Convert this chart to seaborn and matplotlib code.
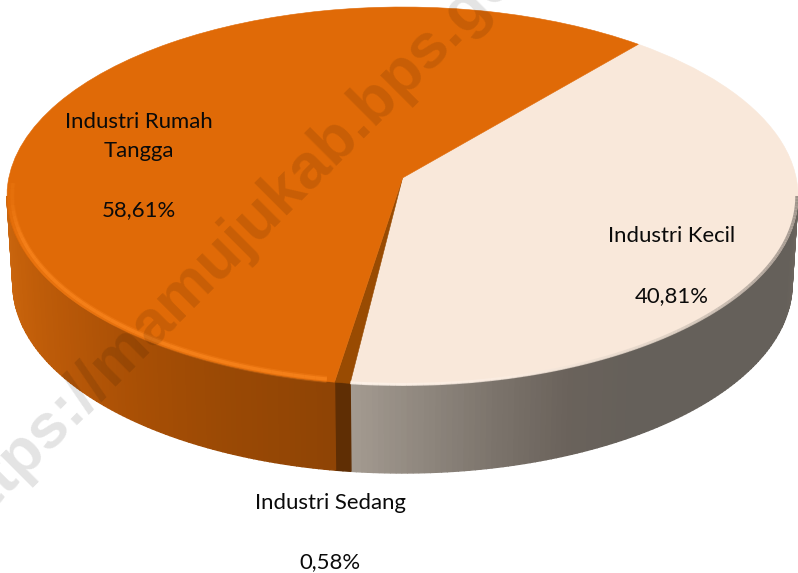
import numpy as np
import matplotlib
matplotlib.use("Agg")
import matplotlib.pyplot as plt
from matplotlib.transforms import Transform
import seaborn as sns

# data
categories = ["Industri Kecil", "Industri Sedang", "Industri Rumah\nTangga"]
shares = [40.81, 0.58, 58.61]
share_labels = ["40,81%", "0,58%", "58,61%"]
top_colors = ["#F9E8DA", "#994B02", "#E06A07"]
wall_ramps = [["#A39A90", "#8E867D", "#7A726A", "#6A625B", "#65605A", "#65605A", "#65605A", "#65605A", "#65605A", "#6B645D"],
              ["#5F2E04", "#5F2E04"],
              ["#CC6810", "#C4600A", "#B85808", "#A84F05", "#9A4905", "#8F4405"]]
rim_colors = ["#FFF4EA", "#994B02", "#FF8A22"]
watermark = "https://mamujukab.bps.go.id"

# layout (pixels)
W, H = 798, 573
CX, CY, RX, RY = 402.5, 196.0, 395.5, 189.0
APEX_Y = 178.0
DEPTH = 88.0
START = 50.0
A = (CY - APEX_Y) / RY
BOTTOM_SCALE = 0.985

sns.set_style("white")
plt.rcParams["font.family"] = ["Lato", "DejaVu Sans"]


def persp(x, y):
    d = 1 + A * y
    return x * np.sqrt(1 - A * A) / d, (y + A) / d


class Persp(Transform):
    input_dims = output_dims = 2
    is_separable = False

    def transform_non_affine(self, pts):
        pts = np.asarray(pts, float)
        u, v = persp(pts[:, 0], pts[:, 1])
        return np.column_stack([u, v])


fig = plt.figure(figsize=(W / 100, H / 100), dpi=100, facecolor="white")
ax = fig.add_axes([0, 0, 1, 1])
wedges, _ = ax.pie(shares, colors=top_colors, startangle=START, counterclock=False,
                   frame=True, wedgeprops=dict(linewidth=0.4, zorder=3))
ax.set_aspect("auto")
ax.set_xlim((0 - CX) / RX, (W - CX) / RX)
ax.set_ylim((CY - H) / RY, CY / RY)
ax.axis("off")
persp_tf = Persp() + ax.transData
for w, c in zip(wedges, top_colors):
    w.set_transform(persp_tf)
    w.set_edgecolor(c)

# slice boundaries converted to the visible ellipse angle
edges_src = START - np.cumsum([0] + shares) * 3.6
eu, ev = persp(np.cos(np.radians(edges_src)), np.sin(np.radians(edges_src)))
edges_phi = np.degrees(np.arctan2(ev, eu)) % 360
edges_phi[-1] = edges_phi[0]
d = DEPTH / RY

# walls, as vertical strips on the front half
ranges = [(edges_phi[1], 360.0, 0), (edges_phi[2], edges_phi[1], 1), (180.0, edges_phi[2], 2)]
for lo, hi, idx in ranges:
    n = max(2, int((hi - lo) * 1.2))
    steps = np.linspace(lo, hi, n + 1)
    ramp = sns.blend_palette(wall_ramps[idx], n)
    for i in range(n):
        ph = np.radians(np.linspace(steps[i], steps[i + 1], 4))
        u, v = np.cos(ph), np.sin(ph)
        xs = np.r_[u, (u * BOTTOM_SCALE)[::-1]]
        ys = np.r_[v, (v - d)[::-1]]
        ax.fill(xs, ys, color=ramp[i], lw=1.0, zorder=1)

# rim highlights
for scale, lw, al in [(0.989, 5.0, 0.28), (0.987, 2.4, 0.55)]:
    ph = np.radians(np.linspace(176, edges_phi[2], 200))
    # taper towards the far left
    for p0, p1 in zip(ph[:-1:4], ph[4::4]):
        seg = np.linspace(p0, p1, 4)
        fade = np.clip((p0 - np.radians(176)) / np.radians(18), 0.25, 1)
        ax.plot(np.cos(seg) * scale, np.sin(seg) * scale, color=rim_colors[2],
                lw=lw, alpha=al * fade, zorder=4, solid_capstyle="butt")

ph_all = np.linspace(edges_phi[1], 360, 120)
rim_ramp = sns.blend_palette(["#FFF6EE", "#FBEDE2", "#D8CCC0", "#9A9088", "#7A726B"], len(ph_all) - 1)
for i in range(len(ph_all) - 1):
    seg = np.radians(np.linspace(ph_all[i], ph_all[i + 1], 3))
    ax.plot(np.cos(seg) * 0.997, np.sin(seg) * 0.997, color=rim_ramp[i], lw=2.2, alpha=0.7,
            zorder=4, solid_capstyle="butt")


def px(x, y):
    return x / W, 1 - y / H


FS = 15.9
for label, pos in zip(categories + share_labels,
                      [(672, 236), (330, 503), (139, 136.5), (672, 296), (330, 562), (139, 210)]):
    fig.text(*px(*pos), label, ha="center", va="center", fontsize=FS, color="#0A0A0A",
             linespacing=1.55, zorder=6)

# watermark
fig.text(*px(-48, 523), watermark, rotation=45, rotation_mode="anchor", ha="left", va="center",
         fontsize=45.5, fontweight="bold", family="Liberation Sans", color="black", alpha=0.11, zorder=7)

fig.savefig("out.png", dpi=100, facecolor="white")
